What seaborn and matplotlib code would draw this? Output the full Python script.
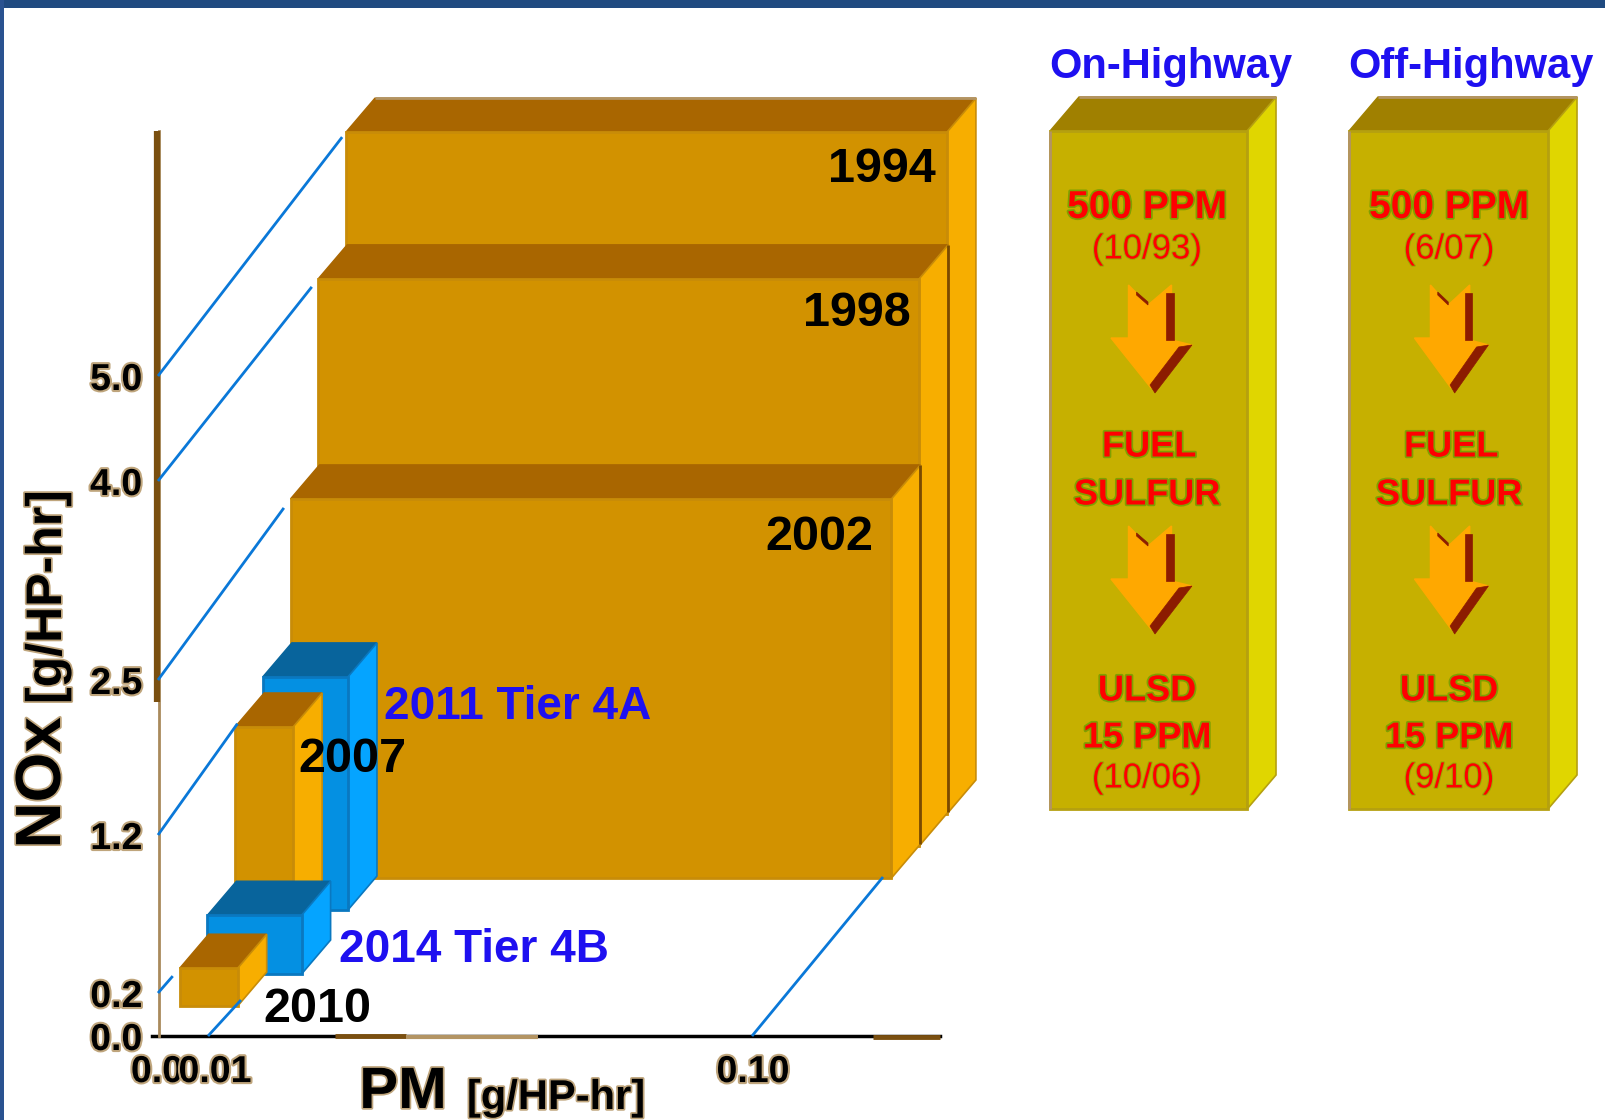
import numpy as np
import matplotlib
matplotlib.use("Agg")
import matplotlib.pyplot as plt
import matplotlib.patheffects as pe
from matplotlib.lines import Line2D
from matplotlib.patches import Polygon, Rectangle
from matplotlib.transforms import Affine2D, IdentityTransform
import seaborn as sns

# Emission standards, oldest to newest
years = ["1994", "1998", "2002", "2011 Tier 4A", "2007", "2014 Tier 4B", "2010"]
pm_limits = [0.10, 0.10, 0.10, 0.0145, 0.01, 0.016, 0.01]
nox_limits = [5.0, 4.0, 2.5, 1.2, 1.2, 0.3, 0.2]

nox_ticks = [0.0, 0.2, 1.2, 2.5, 4.0, 5.0]
pm_ticks = [0.0, 0.01, 0.10]

# Fuel sulfur steps per market
markets = ["On-Highway", "Off-Highway"]
start_ppm = ["500 PPM", "500 PPM"]
start_dates = ["(10/93)", "(6/07)"]
end_ppm = ["15 PPM", "15 PPM"]
end_dates = ["(10/06)", "(9/10)"]

# Layout: both axes are stretched by hand, as on the original slide
W, H = 1606, 1120
X0, Y0 = 152, 1036
PM_KNOTS = [0.0, 0.01, 0.10, 0.131]
PM_PIX = [0, 58, 601, 788]
NOX_KNOTS = [0.0, 0.2, 1.2, 2.5, 4.0, 5.0, 7.33]
NOX_PIX = [0, 43, 201, 356, 555, 660, 905]
LAYER_DX, LAYER_DY = 27.7, 32.0
FLOOR_LIFT = -2
DEPTH_DX, DEPTH_DY = 29, 34
layers = [7, 6, 5, 4, 3, 2, 1]
stretch_y = [1.033, 1.022, 1.065, 1.16, 1.07, 1.0, 0.88]

ORANGE = dict(front="#D29200", top="#A96600", side="#F7AE00", edge="#C88C08")
BLUE = dict(front="#0490E2", top="#08649C", side="#05A4FF", edge="#0A78C0")
OLIVE = dict(front="#C6B000", top="#A08000", side="#E0D600", edge="#B5A010")
block_colors = [ORANGE, ORANGE, ORANGE, BLUE, ORANGE, BLUE, ORANGE]

sns.set_theme(style="white")
plt.rcParams["font.family"] = ["Liberation Sans", "DejaVu Sans"]

fig = plt.figure(figsize=(W / 100, H / 100), dpi=100, facecolor="white")
ax = fig.add_axes([X0 / W, 1 - Y0 / H, PM_PIX[-1] / W, NOX_PIX[-1] / H])
ax.set_facecolor("none")
ax.set_xscale("function", functions=(lambda v: np.interp(v, PM_KNOTS, PM_PIX),
                                     lambda p: np.interp(p, PM_PIX, PM_KNOTS)))
ax.set_yscale("function", functions=(lambda v: np.interp(v, NOX_KNOTS, NOX_PIX),
                                     lambda p: np.interp(p, NOX_PIX, NOX_KNOTS)))
ax.set_xlim(0, PM_KNOTS[-1])
ax.set_ylim(0, NOX_KNOTS[-1])
sns.despine(ax=ax)
ax.spines["left"].set_position(("outward", -5))
ax.spines["left"].set(color="#A98A5C", linewidth=2)
ax.spines["bottom"].set(color="black", linewidth=2.5, zorder=1)

TAN = "#B39463"
soft = [pe.withStroke(linewidth=2.5, foreground="#BFA57C")]


def disp(x, y):
    """Top-left pixel position to display coordinates."""
    return (x, H - y)


def poly(points, face, edge=None, lw=1.5, z=3):
    fig.add_artist(Polygon([disp(*p) for p in points], closed=True, facecolor=face,
                           edgecolor=edge or face, linewidth=lw,
                           transform=IdentityTransform(), zorder=z))


def seg(x0, y0, x1, y1, color, lw, z=4):
    fig.add_artist(Line2D([x0, x1], [H - y0, H - y1], color=color, linewidth=lw,
                          solid_capstyle="butt", transform=IdentityTransform(), zorder=z))


def project(pm, nox, layer_idx):
    """Axis values to top-left pixels on a block's front plane."""
    dx, dy = ax.transData.transform((pm, nox))
    px = dx + LAYER_DX * layers[layer_idx]
    py = Y0 - (dy - (H - Y0)) * stretch_y[layer_idx] - LAYER_DY * layers[layer_idx] - FLOOR_LIFT
    return px, py


def block(x0, x1, y_top, y_bot, c, z, back_line=None):
    poly([(x0 + DEPTH_DX, y_top - DEPTH_DY), (x1 + DEPTH_DX, y_top - DEPTH_DY), (x1, y_top), (x0, y_top)],
         c["top"], c["top"], 1, z)
    poly([(x1, y_top), (x1 + DEPTH_DX, y_top - DEPTH_DY), (x1 + DEPTH_DX, y_bot - DEPTH_DY), (x1, y_bot)],
         c["side"], c["edge"], 1.2, z)
    poly([(x0, y_top), (x1, y_top), (x1, y_bot), (x0, y_bot)], c["front"], c["edge"], 2, z)
    if back_line:
        seg(x1 + DEPTH_DX, y_top - DEPTH_DY, x1 + DEPTH_DX, y_bot - DEPTH_DY, back_line, 2, z + 0.01)


for i in range(len(years)):
    x_a, y_b = project(0, 0, i)
    x_b, y_t = project(pm_limits[i], nox_limits[i], i)
    block(x_a, x_b, y_t, y_b, block_colors[i], 3 + 0.1 * i,
          back_line="#7A4A00" if i in (1, 2) else None)
    if i == 0:
        seg(x_a + DEPTH_DX, y_t - DEPTH_DY, x_b + DEPTH_DX, y_t - DEPTH_DY, TAN, 2, 3.05)

# Pale-edged axis runs
seg(157, 131, 157, 702, "#7A4F10", 4.5, 2)
seg(335, 1036, 406, 1036, "#7A4F10", 3.5, 2)
seg(406, 1037, 538, 1037, TAN, 3, 2)
seg(873, 1037, 940, 1037, "#7A4F10", 3.5, 2)

# Blue construction lines from the axes to the blocks
GUIDE = "#0A78D8"
for nox, idx, reach in [(5.0, 0, 0.98), (4.0, 1, 0.96), (2.5, 2, 0.95), (1.2, 4, 1.03), (0.2, 6, 0.68)]:
    sx, sy = 158, Y0 - (ax.transData.transform((0, nox))[1] - (H - Y0))
    ex, ey = project(0, nox_limits[idx], idx)
    seg(sx, sy, sx + (ex - sx) * reach, sy + (ey - sy) * reach, GUIDE, 2, 3.8 if nox > 1.2 else 5)
seg(208, 1036, 241, 1000, GUIDE, 2, 5)
seg(752, 1036, 883, 877, GUIDE, 2, 3.8)

# Tick labels
ax.set_xticks(pm_ticks, ["0.0", "0.01", "0.10"])
ax.set_yticks(nox_ticks, [f"{v:.1f}" for v in nox_ticks])
ax.minorticks_off()
ax.tick_params(axis="x", length=0, pad=13, labelsize=27)
ax.tick_params(axis="y", length=0, pad=12, labelsize=27)
for lab in ax.get_xticklabels() + ax.get_yticklabels():
    lab.set_fontweight("bold")
    lab.set_color("black")
    lab.set_path_effects([pe.withStroke(linewidth=3, foreground="#BFA57C")])
for lab in ax.get_xticklabels()[:2]:
    lab.set_transform(lab.get_transform() + Affine2D().translate(5, 0))


def label(x, y, s, size, color="black", weight="bold", rotation=0, effects=None, ha="center"):
    fig.text(x / W, 1 - y / H, s, fontsize=size, color=color, fontweight=weight, rotation=rotation,
             ha=ha, va="center", path_effects=effects, zorder=8)


# Axis titles
label(403, 1093, "PM", 42, effects=soft)
label(556, 1098, "[g/HP-hr]", 30, effects=soft)
label(43, 783, "NOx", 46, rotation=90, effects=soft)
label(48, 597, "[g/HP-hr]", 36, rotation=90, effects=soft)

# Year labels on the blocks
year_spots = [(882, 170), (857, 313), (819, 537), (384, 707), (352, 760), (339, 950), (317, 1010)]
for name, (x, y), c in zip(years, year_spots, block_colors):
    if c is BLUE:
        label(x, y, name, 33, color="#1E10F0", ha="left")
    else:
        label(x, y, name, 35)

# Fuel sulfur columns
ARROW_FILL, ARROW_DARK = "#FFA800", "#8C1C00"


def arrow(cx, top, half):
    k = half / 40.5
    p = lambda dx, dy: (cx + dx * k, top + dy)
    poly([p(-22.5, 0), p(-3, 20), p(20.5, 0), p(20.5, 55), p(41, 60), p(0, 103), p(-40, 53), p(-22.5, 53)],
         ARROW_FILL, ARROW_FILL, 1, 6)
    poly([p(15, 8), p(23, 8), p(23, 55), p(15, 55)], ARROW_DARK, ARROW_DARK, 0.5, 6.1)
    poly([p(28, 62), p(41, 60), p(4, 108), p(-1, 100)], ARROW_DARK, ARROW_DARK, 0.5, 6.1)
    poly([p(-14.5, 7), p(-3, 17), p(-3, 20), p(-14.5, 10)], ARROW_DARK, ARROW_DARK, 0.5, 6.1)


halo = [pe.withStroke(linewidth=2.5, foreground="#7FA000")]
thin_halo = [pe.withStroke(linewidth=1.5, foreground="#9DAA00")]
columns = [(1050, 1247, 1147, 1151, 40.5, 1171), (1349, 1548, 1449, 1451, 37, 1471)]
for m, (x0, x1, tx, ax_c, half, head_x) in enumerate(columns):
    block(x0, x1, 131, 809, OLIVE, 3)
    seg(x0 + DEPTH_DX, 97, x1 + DEPTH_DX, 97, TAN, 2, 3.05)
    seg(x0, 131, x0, 809, TAN, 2, 3.05)
    label(head_x, 67, markets[m], 30, color="#1E10F0")
    label(tx, 208, start_ppm[m], 28, color="#FF0000", effects=halo)
    label(tx, 249, start_dates[m], 25, color="#FF0000", weight="normal", effects=thin_halo)
    arrow(ax_c, 285, half)
    label(tx + 2, 447, "FUEL", 26, color="#FF0000", effects=halo)
    label(tx, 495, "SULFUR", 26, color="#FF0000", effects=halo)
    arrow(ax_c, 526, half)
    label(tx, 691, "ULSD", 26, color="#FF0000", effects=halo)
    label(tx, 738, end_ppm[m], 26, color="#FF0000", effects=halo)
    label(tx, 778, end_dates[m], 25, color="#FF0000", weight="normal", effects=thin_halo)

# Slide frame
fig.add_artist(Rectangle((0, 1 - 8 / H), 1, 8 / H, transform=fig.transFigure, facecolor="#204A80", edgecolor="none", zorder=9))
fig.add_artist(Rectangle((0, 0), 4 / W, 1, transform=fig.transFigure, facecolor="#2A5290", edgecolor="none", zorder=9))

fig.savefig("out.png", dpi=100, facecolor="white")
